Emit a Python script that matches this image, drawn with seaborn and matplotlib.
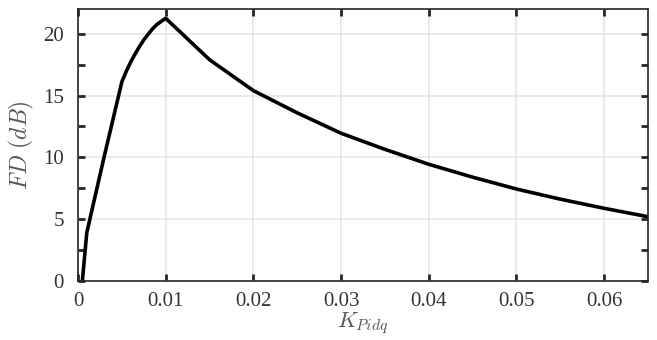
import matplotlib
matplotlib.use("Agg")
import matplotlib.pyplot as plt
import seaborn as sns
import pandas as pd
from matplotlib.ticker import MultipleLocator

k_pidq = [0.0005, 0.001, 0.002, 0.003, 0.004, 0.005, 0.0055, 0.006, 0.0065, 0.007, 0.0075,
          0.008, 0.0085, 0.009, 0.0095, 0.010, 0.015, 0.020, 0.025,
          0.030, 0.035, 0.040, 0.045, 0.050, 0.055, 0.060, 0.065]
fd_db = [0.0, 3.9, 7.0, 10.1, 13.1, 16.1, 16.95, 17.7, 18.35, 18.95, 19.5,
         19.95, 20.4, 20.75, 21.0, 21.25, 17.9, 15.4, 13.6,
         11.95, 10.65, 9.44, 8.4, 7.44, 6.62, 5.88, 5.2]
x_ticks = [0, 0.01, 0.02, 0.03, 0.04, 0.05, 0.06]
x_tick_labels = ["0", "0.01", "0.02", "0.03", "0.04", "0.05", "0.06"]

sns.set_style("white")
plt.rcParams["font.family"] = ["Liberation Serif", "DejaVu Serif"]
plt.rcParams["mathtext.fontset"] = "cm"

df = pd.DataFrame({"k": k_pidq, "fd": fd_db})

fig = plt.figure(figsize=(6.57, 3.40), dpi=100)
ax = fig.add_axes([0.1187, 0.1735, 0.8676, 0.80])
sns.lineplot(data=df, x="k", y="fd", ax=ax, color="black", linewidth=2.6, sort=False)

ax.set_xlim(0, 0.065)
ax.set_ylim(0, 22)
ax.set_xticks(x_ticks)
ax.set_xticklabels(x_tick_labels)
ax.yaxis.set_major_locator(MultipleLocator(5))
ax.yaxis.set_minor_locator(MultipleLocator(2.5))
ax.grid(True, which="major", color="#e6e6e6", linewidth=1.2)
ax.set_axisbelow(True)

for s in ax.spines.values():
    s.set_color("#262626")
    s.set_linewidth(1.2)
    s.set_visible(True)

ax.tick_params(axis="both", which="both", direction="in", left=True, right=True,
               bottom=True, top=True, width=2, length=5, color="#262626",
               labelsize=15, labelcolor="#333333")
ax.tick_params(axis="x", which="both", pad=8)
ax.tick_params(axis="y", which="both", pad=10)
ax.set_xlabel(r"$K_{Pidq}$", fontsize=16, color="#555555", labelpad=-1)
ax.set_ylabel(r"$FD\ (dB)$", fontsize=17, color="#555555", labelpad=5)

fig.savefig("out.png", dpi=100)
